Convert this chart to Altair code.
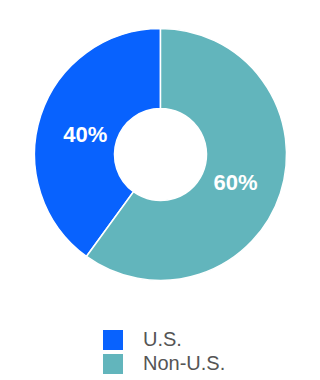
import altair as alt
import pandas as pd

regions = ["U.S.", "Non-U.S."]
shares = [40, 60]
labels = ["40%", "60%"]
draw_order = [2, 1]
colors = ["#0862FE", "#62B5BC"]

df = pd.DataFrame({"region": regions, "share": shares, "label": labels, "ord": draw_order})

base = alt.Chart(df).encode(
    theta=alt.Theta("share:Q", stack=True),
    order=alt.Order("ord:Q"),
)

arcs = base.mark_arc(outerRadius=126, innerRadius=46, stroke="white", strokeWidth=1.5).encode(
    x=alt.value(160.5),
    y=alt.value(154.5),
    color=alt.Color(
        "region:N",
        scale=alt.Scale(domain=regions, range=colors),
        legend=alt.Legend(
            title=None,
            orient="none",
            legendX=103,
            legendY=330,
            symbolType="square",
            symbolSize=400,
            symbolStrokeWidth=0,
            labelFontSize=20,
            labelFont="Liberation Sans",
            labelColor="#555555",
            labelOffset=20,
            rowPadding=4,
        ),
    ),
)

text = base.mark_text(
    radius=79, font="Liberation Sans", fontSize=22, fontWeight="bold", color="white"
).encode(
    x=alt.value(160.5),
    y=alt.value(159),
    text="label:N",
)

chart = (
    alt.layer(arcs, text)
    .properties(width=320, height=380, padding=0, autosize=alt.AutoSizeParams(type="none"))
    .configure_view(stroke=None)
)

chart.save("out.html", embed_options={"renderer": "svg", "actions": False})
